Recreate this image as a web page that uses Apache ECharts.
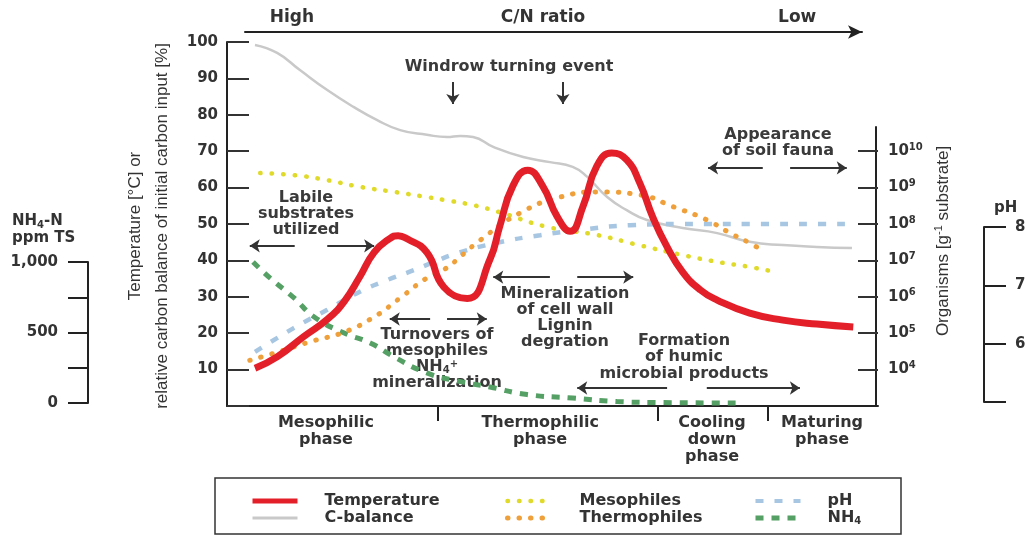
<!DOCTYPE html>
<html><head><meta charset="utf-8">
<script src="https://cdn.jsdelivr.net/npm/echarts@6.0.0/dist/echarts.min.js"></script>
<style>html,body{margin:0;padding:0;background:#fff}#c{width:1027px;height:537px}</style>
</head><body><div id="c"></div>
<script>
// ---------- data (time axis: 0..100 % of the composting process) ----------
const tempTime   = [4.3, 7.7, 11.8, 15.4, 18.0, 20.4, 22.6, 25.0, 26.3, 27.6, 30.7, 33.3, 36.9, 40.4, 41.9, 43.9, 46.2, 48.5, 50.7, 52.7, 54.7, 56.8, 59.1, 61.4, 63.4, 65.4, 67.6, 70.0, 72.7, 75.3, 80.3, 85.4, 90.6, 96.2];
const tempValues = [10.4, 13.5, 19.1, 23.8, 28.7, 35.5, 42.2, 46.0, 46.8, 46.0, 42.2, 32.7, 29.5, 40.3, 49.4, 60.4, 64.8, 60.4, 52.1, 48.0, 54.9, 65.9, 69.5, 67.6, 61.3, 51.9, 43.7, 36.8, 31.9, 29.1, 25.5, 23.6, 22.5, 21.7];

const cTime   = [4.3, 7.7, 11.2, 15.4, 19.5, 23.0, 26.6, 30.7, 33.8, 35.8, 37.8, 40.9, 45.5, 49.6, 53.1, 55.3, 58.4, 61.4, 64.5, 70.0, 75.3, 80.3, 85.4, 90.6, 96.0];
const cValues = [99.2, 97.0, 92.3, 86.8, 82.1, 78.6, 75.8, 74.5, 73.9, 74.2, 73.9, 71.2, 68.4, 67.0, 65.7, 63.0, 57.4, 53.8, 51.1, 48.9, 47.5, 45.1, 44.2, 43.7, 43.4];

const mesoTime   = [5.1, 10.3, 15.4, 20.4, 25.7, 30.7, 33.3, 37.8, 41.9, 49.2, 56.8, 63.4, 70.0, 75.3, 80.3, 84.2];
const mesoCounts = [2.5e9, 2.2e9, 1.6e9, 1.05e9, 7.6e8, 5.5e8, 4.6e8, 3.3e8, 2.1e8, 8.3e7, 5.0e7, 2.6e7, 1.4e7, 9.1e6, 6.6e6, 4.8e6];

const thermoTime   = [3.5, 7.7, 12.7, 18.0, 22.6, 26.6, 30.7, 33.3, 38.9, 45.0, 51.2, 57.3, 63.4, 68.5, 73.7, 77.3, 80.3, 82.6];
const thermoCounts = [1.8e4, 3.0e4, 5.8e4, 1.07e5, 2.8e5, 9.3e5, 3.3e6, 5.5e6, 3.6e7, 2.0e8, 5.5e8, 7.6e8, 6.3e8, 3.0e8, 1.3e8, 5.6e7, 3.0e7, 1.7e7];

const phTime   = [4.3, 10.3, 15.4, 20.4, 24.6, 28.7, 31.8, 35.3, 41.5, 48.1, 54.2, 61.9, 69.6, 81.9, 95.2];
const phValues = [5.86, 6.27, 6.58, 6.89, 7.09, 7.26, 7.40, 7.55, 7.73, 7.86, 7.95, 8.03, 8.05, 8.05, 8.05];

const nh4Time   = [4.0, 6.6, 10.3, 13.4, 18.0, 22.0, 25.7, 30.7, 35.5, 40.4, 46.1, 53.1, 59.9, 67.0, 78.8];
const nh4Values = [1000, 887, 745, 610, 496, 426, 326, 213, 155, 113, 60, 35, 10, 3, 0];

const phaseLabels = ['Mesophilic\nphase', 'Thermophilic\nphase', 'Cooling\ndown\nphase', 'Maturing\nphase'];
const cnLabels = ['High', 'C/N ratio', 'Low'];
const organismTicks = [1e4, 1e5, 1e6, 1e7, 1e8, 1e9, 1e10];

// ---------- layout / styles ----------
const FONT = '"DejaVu Sans", sans-serif';
const SANS = '"Liberation Sans", Arial, sans-serif';
const INK = '#333';
const phaseBoundaries = [32.4, 66.2, 83.1];
const phaseCenters = [15.2, 48.1, 74.5, 91.4];
const cnCenters = [7.6, 48.3, 89.5];
const nearest = (arr, v) => { let b = 0; arr.forEach((a, i) => { if (Math.abs(a - v) < Math.abs(arr[b] - v)) b = i; }); return b; };
const zip = (xs, ys) => xs.map((x, i) => [x, ys[i]]);

const arrows = [
  [10.4, 44.0, 3.5, 44.0], [15.4, 44.0, 22.6, 44.0],
  [31.2, 23.9, 25.0, 23.9], [33.8, 23.9, 39.9, 23.9],
  [49.6, 35.4, 40.9, 35.4], [53.8, 35.4, 62.4, 35.4],
  [67.6, 4.95, 53.8, 4.95], [73.7, 4.95, 88.0, 4.95],
  [82.3, 65.4, 73.9, 65.4], [86.5, 65.4, 95.2, 65.4],
  [34.7, 89.0, 34.7, 83.0], [51.6, 89.0, 51.6, 83.0]
];

const boldTxt = (size) => ({ fontFamily: FONT, fontWeight: 'bold', fontSize: size, color: INK });
const noBounds = { outerBoundsMode: 'none', containLabel: false };
const axisLineStyle = { show: true, onZero: false, lineStyle: { color: '#222', width: 2 } };

const lineBase = { type: 'line', showSymbol: false, symbol: 'none', smooth: 0.5, animation: false, silent: true };

const legendWidths = { 'Temperature': 5, 'C-balance': 3, 'Mesophiles': 4.5, 'Thermophiles': 5, 'pH': 4, 'NH4': 5 };

function legendOf(left, names) {
  return {
    orient: 'vertical', left: left, top: 488, itemWidth: 45, itemHeight: 10, itemGap: 1,
    selectedMode: false,
    data: names.map(n => ({ name: n, lineStyle: { width: legendWidths[n] } })),
    itemStyle: { opacity: 0 },
    formatter: n => n === 'NH4' ? '{n|NH}{s|4}' : '{n|' + n + '}',
    textStyle: {
      fontFamily: FONT, fontWeight: 'bold', fontSize: 16, color: INK, padding: [0, 0, 0, 22],
      rich: { n: { fontFamily: FONT, fontWeight: 'bold', fontSize: 16, color: INK, lineHeight: 16 },
              s: { fontFamily: FONT, fontWeight: 'bold', fontSize: 10, color: INK, verticalAlign: 'bottom', lineHeight: 16 } }
    }
  };
}

function centeredText(x, y, lines, lh) {
  return {
    type: 'text', x: x, y: y, silent: true,
    style: { text: lines, fill: '#3a3a3a', font: 'bold 16px ' + FONT, align: 'center', verticalAlign: 'middle', lineHeight: lh }
  };
}

const rc = { fontFamily: FONT, fontWeight: 'bold', fontSize: 16, fill: '#3a3a3a', align: 'center', lineHeight: 16 };

const option = {
  animation: false,
  backgroundColor: '#fff',
  grid: [
    Object.assign({ left: 227, right: 149, top: 42, bottom: 131 }, noBounds),   // main plot
    Object.assign({ left: 227, right: 151, top: 127, bottom: 131 }, noBounds),  // organisms axis line
    Object.assign({ left: 975, right: 43, top: 227, bottom: 135 }, noBounds),   // pH axis
    Object.assign({ left: 88, width: 9, top: 262, bottom: 134 }, noBounds),     // NH4 axis
    Object.assign({ left: 245, right: 165, top: 32, height: 1 }, noBounds)      // C/N ratio arrow
  ],
  legend: [legendOf(245, ['Temperature', 'C-balance']), legendOf(500, ['Mesophiles', 'Thermophiles']), legendOf(748, ['pH', 'NH4'])],
  xAxis: [
    { type: 'value', gridIndex: 0, min: 0, max: 100, position: 'bottom',
      axisLine: axisLineStyle,
      axisTick: { show: true, inside: false, length: 15, customValues: phaseBoundaries, lineStyle: { color: '#222', width: 2 } },
      axisLabel: Object.assign({ customValues: phaseCenters, margin: 8, lineHeight: 17, formatter: v => phaseLabels[nearest(phaseCenters, v)] }, boldTxt(16)),
      splitLine: { show: false } },
    { type: 'value', gridIndex: 1, min: 0, max: 1, show: false },
    { type: 'value', gridIndex: 2, min: 0, max: 1, show: false },
    { type: 'value', gridIndex: 3, min: 0, max: 1, show: false },
    { type: 'value', gridIndex: 4, min: 0, max: 100, position: 'top',
      axisLine: { show: true, onZero: false, symbol: ['none', 'arrow'], symbolSize: [10, 14], lineStyle: { color: '#222', width: 2 } },
      axisTick: { show: false },
      axisLabel: Object.assign({ customValues: cnCenters, margin: 6, formatter: v => cnLabels[nearest(cnCenters, v)] }, boldTxt(17)),
      splitLine: { show: false } }
  ],
  yAxis: [
    { type: 'value', gridIndex: 0, min: 0, max: 100, interval: 10, position: 'left',
      axisLine: axisLineStyle,
      axisTick: { show: true, inside: true, length: 22, lineStyle: { color: INK, width: 2 } },
      axisLabel: Object.assign({ margin: 9, formatter: v => v === 0 ? '' : String(v) }, boldTxt(15)),
      splitLine: { show: false } },
    { type: 'log', logBase: 10, gridIndex: 0, min: 1e3, max: 1e13, position: 'right',
      axisLine: { show: false, onZero: false },
      axisTick: { show: true, inside: true, length: 20, customValues: organismTicks, lineStyle: { color: INK, width: 2 } },
      axisLabel: { customValues: organismTicks, margin: 10,
        formatter: v => '{b|10}{s|' + Math.round(Math.log10(v)) + '}',
        rich: { b: { fontFamily: FONT, fontWeight: 'bold', fontSize: 15, color: INK, lineHeight: 18 },
                s: { fontFamily: FONT, fontWeight: 'bold', fontSize: 10, color: INK, verticalAlign: 'top', lineHeight: 12 } } },
      splitLine: { show: false } },
    { type: 'value', gridIndex: 0, min: 4.931, max: 11.172, show: false },
    { type: 'value', gridIndex: 0, min: -21.28, max: 2560, show: false },
    { type: 'value', gridIndex: 1, min: 0, max: 1, position: 'right',
      axisLine: axisLineStyle,
      axisTick: { show: false }, axisLabel: { show: false }, splitLine: { show: false } },
    { type: 'value', gridIndex: 2, min: 5, max: 8, interval: 1, position: 'right',
      name: 'pH', nameLocation: 'end', nameGap: 11,
      nameTextStyle: Object.assign({ align: 'left', padding: [0, 0, 0, 10] }, boldTxt(15)),
      axisLine: axisLineStyle,
      axisTick: { show: true, inside: false, length: 22, lineStyle: { color: '#222', width: 2 } },
      axisLabel: Object.assign({ margin: 31, formatter: v => v === 5 ? '' : String(v) }, boldTxt(15)),
      splitLine: { show: false } },
    { type: 'value', gridIndex: 3, min: 0, max: 1000, interval: 250, position: 'left',
      axisLine: axisLineStyle,
      axisTick: { show: true, inside: false, length: 20, lineStyle: { color: '#222', width: 2 } },
      axisLabel: Object.assign({ margin: 30, formatter: v => v === 1000 ? '1,000' : (v % 500 === 0 ? String(v) : '') }, boldTxt(15)),
      splitLine: { show: false } },
    { type: 'value', gridIndex: 4, min: 0, max: 1, show: false }
  ],
  series: [
    Object.assign({}, lineBase, { name: 'C-balance', xAxisIndex: 0, yAxisIndex: 0, z: 1, data: zip(cTime, cValues),
      itemStyle: { color: '#c9c9c9' }, lineStyle: { color: '#c9c9c9', width: 2.5 } }),
    Object.assign({}, lineBase, { name: 'NH4', xAxisIndex: 0, yAxisIndex: 3, z: 2, data: zip(nh4Time, nh4Values),
      itemStyle: { color: '#55a064' }, lineStyle: { color: '#55a064', width: 5, type: [8, 8] } }),
    Object.assign({}, lineBase, { name: 'pH', xAxisIndex: 0, yAxisIndex: 2, z: 2, data: zip(phTime, phValues),
      itemStyle: { color: '#a7c6e2' }, lineStyle: { color: '#a7c6e2', width: 4.5, type: [8, 11] } }),
    Object.assign({}, lineBase, { name: 'Mesophiles', xAxisIndex: 0, yAxisIndex: 1, z: 3, data: zip(mesoTime, mesoCounts),
      itemStyle: { color: '#e0da2a' }, lineStyle: { color: '#e0da2a', width: 4.5, type: [0.5, 11], cap: 'round' } }),
    Object.assign({}, lineBase, { name: 'Thermophiles', xAxisIndex: 0, yAxisIndex: 1, z: 3, data: zip(thermoTime, thermoCounts),
      itemStyle: { color: '#f0a03a' }, lineStyle: { color: '#f0a03a', width: 5, type: [0.5, 11], cap: 'round' } }),
    Object.assign({}, lineBase, { name: 'Temperature', xAxisIndex: 0, yAxisIndex: 0, z: 5, data: zip(tempTime, tempValues),
      itemStyle: { color: '#e3202a' }, lineStyle: { color: '#e3202a', width: 7 },
      markLine: { silent: true, animation: false, symbol: ['none', 'arrow'], symbolSize: 10,
        label: { show: false }, emphasis: { disabled: true },
        lineStyle: { color: INK, width: 2, type: 'solid' },
        data: arrows.map(a => [{ coord: [a[0], a[1]] }, { coord: [a[2], a[3]] }]) } })
  ],
  graphic: [
    centeredText(509, 67, 'Windrow turning event', 16),
    centeredText(306, 214, 'Labile\nsubstrates\nutilized', 16),
    { type: 'text', x: 437, y: 359, silent: true,
      style: { text: '{t|Turnovers of}\n{t|mesophiles}\n{t|NH}{sb|4}{sp|+}\n{t|mineralization}', align: 'center', verticalAlign: 'middle',
        rich: { t: rc, sb: Object.assign({}, rc, { fontSize: 10, verticalAlign: 'bottom' }), sp: Object.assign({}, rc, { fontSize: 10, verticalAlign: 'top' }) } } },
    centeredText(565, 318, 'Mineralization\nof cell wall\nLignin\ndegration', 16),
    centeredText(684, 357, 'Formation\nof humic\nmicrobial products', 16.5),
    centeredText(778, 143, 'Appearance\nof soil fauna', 16),
    { type: 'text', x: 12, y: 230, silent: true,
      style: { text: '{b|NH}{s|4}{b|-N}\n{b|ppm TS}', align: 'left', verticalAlign: 'middle',
        rich: { b: { fontFamily: FONT, fontWeight: 'bold', fontSize: 15, fill: INK, lineHeight: 17 },
                s: { fontFamily: FONT, fontWeight: 'bold', fontSize: 10, fill: INK, verticalAlign: 'bottom', lineHeight: 17 } } } },
    { type: 'text', x: 149, y: 226, rotation: Math.PI / 2, silent: true,
      style: { text: 'Temperature [°C] or\nrelative carbon balance of initial carbon input [%]', font: '17px ' + SANS, fill: INK,
        align: 'center', verticalAlign: 'middle', lineHeight: 27 } },
    { type: 'text', x: 943, y: 241, rotation: Math.PI / 2, silent: true,
      style: { text: '{a|Organisms [g}{s|-1}{a| substrate]}', align: 'center', verticalAlign: 'middle',
        rich: { a: { fontFamily: SANS, fontSize: 17, fill: INK, lineHeight: 20 },
                s: { fontFamily: SANS, fontSize: 11, fill: INK, verticalAlign: 'top', lineHeight: 12 } } } },
    { type: 'rect', silent: true, shape: { x: 215, y: 478, width: 686, height: 56 },
      style: { fill: 'none', stroke: INK, lineWidth: 1.5 } }
  ]
};

const chart = echarts.init(document.getElementById('c'));
chart.setOption(option);
</script>
</body></html>
